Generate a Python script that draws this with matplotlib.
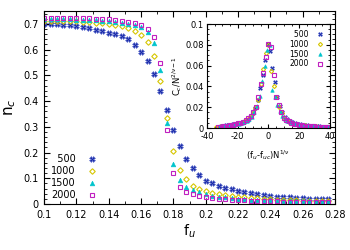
import matplotlib
matplotlib.use("Agg")
import matplotlib.pyplot as plt
from matplotlib.ticker import MultipleLocator

# main panel: n_c vs f_u
f_u = [0.100, 0.104, 0.108, 0.112, 0.116, 0.120, 0.124, 0.128, 0.132, 0.136,
       0.140, 0.144, 0.148, 0.152, 0.156, 0.160, 0.164, 0.168, 0.172, 0.176,
       0.180, 0.184, 0.188, 0.192, 0.196, 0.200, 0.204, 0.208, 0.212, 0.216,
       0.220, 0.224, 0.228, 0.232, 0.236, 0.240, 0.244, 0.248, 0.252, 0.256,
       0.260, 0.264, 0.268, 0.272, 0.276]

nc_500 = [0.700, 0.700, 0.699, 0.697, 0.694, 0.691, 0.687, 0.683, 0.677, 0.672,
          0.666, 0.659, 0.652, 0.640, 0.619, 0.592, 0.554, 0.504, 0.439, 0.364,
          0.288, 0.226, 0.175, 0.139, 0.113, 0.091, 0.080, 0.070, 0.061, 0.057,
          0.051, 0.045, 0.042, 0.038, 0.035, 0.031, 0.029, 0.027, 0.026, 0.024,
          0.022, 0.021, 0.020, 0.019, 0.018]
nc_1000 = [0.713, 0.713, 0.712, 0.712, 0.711, 0.710, 0.709, 0.707, 0.705, 0.702,
           0.699, 0.695, 0.690, 0.684, 0.674, 0.657, 0.628, 0.575, 0.478, 0.334,
           0.207, 0.132, 0.096, 0.070, 0.057, 0.049, 0.043, 0.038, 0.034, 0.031,
           0.028, 0.026, 0.024, 0.022, 0.020, 0.019, 0.017, 0.016, 0.015, 0.014,
           0.013, 0.012, 0.012, 0.011, 0.011]
nc_1500 = [0.718, 0.718, 0.718, 0.717, 0.717, 0.716, 0.716, 0.715, 0.714, 0.712,
           0.710, 0.708, 0.705, 0.701, 0.696, 0.686, 0.667, 0.624, 0.519, 0.314,
           0.156, 0.093, 0.065, 0.053, 0.045, 0.038, 0.033, 0.029, 0.026, 0.023,
           0.021, 0.019, 0.017, 0.016, 0.015, 0.014, 0.013, 0.012, 0.011, 0.011,
           0.010, 0.010, 0.009, 0.009, 0.009]
nc_2000 = [0.722, 0.722, 0.722, 0.722, 0.722, 0.722, 0.721, 0.721, 0.720, 0.719,
           0.717, 0.715, 0.712, 0.708, 0.703, 0.694, 0.680, 0.649, 0.547, 0.288,
           0.119, 0.067, 0.048, 0.037, 0.031, 0.027, 0.023, 0.020, 0.018, 0.016,
           0.015, 0.014, 0.013, 0.012, 0.011, 0.010, 0.010, 0.009, 0.009, 0.008,
           0.008, 0.008, 0.008, 0.008, 0.008]

# inset: scaling collapse
ix_500 = [-31.0, -29.4, -27.8, -26.2, -24.6, -23.0, -21.4, -19.8, -18.2, -16.6,
          -15.0, -13.4, -11.8, -10.2, -8.6, -7.0, -5.4, -3.8, -2.2, -0.6,
          1.0, 2.6, 4.2, 5.8, 7.4, 9.0, 10.6, 12.2, 13.8, 15.4,
          17.0, 18.6, 20.2, 21.8, 23.4, 25.0, 26.6, 28.2, 29.8, 31.4,
          33.0, 34.6, 36.2, 37.8, 39.4]
iy_500 = [0.002, 0.002, 0.003, 0.003, 0.003, 0.004, 0.004, 0.005, 0.005, 0.006,
          0.007, 0.008, 0.011, 0.014, 0.019, 0.027, 0.038, 0.051, 0.065, 0.081,
          0.074, 0.058, 0.044, 0.030, 0.021, 0.015, 0.011, 0.009, 0.007, 0.006,
          0.005, 0.004, 0.004, 0.003, 0.003, 0.003, 0.002, 0.002, 0.002, 0.002,
          0.002, 0.001, 0.001, 0.001, 0.001]
ix_1000 = [-34.0, -32.3, -30.6, -28.9, -27.2, -25.5, -23.8, -22.1, -20.4, -18.7,
           -17.0, -15.3, -13.6, -11.9, -10.2, -8.5, -6.8, -5.1, -3.4, -1.7,
           0.0, 1.7, 3.4, 5.1, 6.8, 8.5, 10.2, 11.9, 13.6, 15.3,
           17.0, 18.7, 20.4, 22.1, 23.8, 25.5, 27.2, 28.9, 30.6, 32.3,
           34.0, 35.7, 37.4, 39.1]
iy_1000 = [0.001, 0.001, 0.002, 0.002, 0.002, 0.003, 0.003, 0.004, 0.004, 0.005,
           0.006, 0.007, 0.009, 0.011, 0.014, 0.019, 0.027, 0.042, 0.057, 0.072,
           0.080, 0.055, 0.040, 0.030, 0.020, 0.014, 0.010, 0.008, 0.006, 0.005,
           0.004, 0.004, 0.003, 0.003, 0.003, 0.002, 0.002, 0.002, 0.002, 0.001,
           0.001, 0.001, 0.001, 0.001]
ix_1500 = [-32.2, -30.6, -28.9, -27.3, -25.6, -24.0, -22.3, -20.7, -19.0, -17.4,
           -15.7, -14.1, -12.4, -10.8, -9.1, -7.5, -5.8, -4.2, -2.5, -0.9,
           0.8, 2.4, 4.1, 5.7, 7.4, 9.0, 10.7, 12.3, 14.0, 15.6,
           17.3, 18.9, 20.6, 22.2, 23.9, 25.5, 27.2, 28.8, 30.5, 32.1,
           33.8, 35.4, 37.1, 38.7]
iy_1500 = [0.001, 0.002, 0.002, 0.002, 0.003, 0.003, 0.003, 0.004, 0.004, 0.005,
           0.006, 0.007, 0.009, 0.011, 0.015, 0.021, 0.031, 0.045, 0.060, 0.075,
           0.080, 0.037, 0.030, 0.022, 0.016, 0.012, 0.009, 0.007, 0.006, 0.005,
           0.004, 0.004, 0.003, 0.003, 0.003, 0.002, 0.002, 0.002, 0.002, 0.001,
           0.001, 0.001, 0.001, 0.001]
ix_2000 = [-33.0, -31.4, -29.7, -28.1, -26.4, -24.8, -23.1, -21.5, -19.8, -18.2,
           -16.5, -14.9, -13.2, -11.6, -9.9, -8.3, -6.6, -5.0, -3.3, -1.7,
           0.0, 1.7, 3.3, 5.0, 6.6, 8.3, 9.9, 11.6, 13.2, 14.9,
           16.5, 18.2, 19.8, 21.5, 23.1, 24.8, 26.4, 28.1, 29.7, 31.4,
           33.0, 34.7, 36.3, 38.0, 39.6]
iy_2000 = [0.001, 0.001, 0.002, 0.002, 0.002, 0.003, 0.003, 0.004, 0.005, 0.005,
           0.006, 0.008, 0.010, 0.012, 0.015, 0.020, 0.030, 0.042, 0.053, 0.068,
           0.081, 0.078, 0.051, 0.030, 0.022, 0.015, 0.010, 0.008, 0.007, 0.005,
           0.004, 0.004, 0.003, 0.003, 0.002, 0.002, 0.002, 0.002, 0.002, 0.001,
           0.001, 0.001, 0.001, 0.001, 0.001]

labels = ['500', '1000', '1500', '2000']
styles = [
    dict(marker='X', color='#1a2aa8', ms=4.0, mew=0.4, mfc='#1a2aa8', mec='#6070d0'),
    dict(marker='D', color='#d6c600', ms=2.8, mew=0.8, mfc='none'),
    dict(marker='^', color='#00c4cc', ms=3.4, mew=0.4, mfc='#00c4cc'),
    dict(marker='s', color='#c020c0', ms=3.5, mew=0.8, mfc='none'),
]

plt.rcParams['font.family'] = 'DejaVu Sans'
fig = plt.figure(figsize=(3.5, 2.5), dpi=100)
ax = fig.add_axes([0.126, 0.184, 0.831, 0.772])

main_y = [nc_500, nc_1000, nc_1500, nc_2000]
for lab, y, st in zip(labels, main_y, styles):
    ax.plot(f_u, y, ls='none', label='\u2007' * (4 - len(lab)) + lab, **st)

ax.set_xlim(0.1, 0.28)
ax.set_ylim(0, 0.75)
ax.xaxis.set_major_locator(MultipleLocator(0.02))
ax.xaxis.set_minor_locator(MultipleLocator(0.01))
ax.yaxis.set_major_locator(MultipleLocator(0.1))
ax.yaxis.set_minor_locator(MultipleLocator(0.02))
ax.xaxis.set_major_formatter(plt.FuncFormatter(lambda v, p: f'{v:g}'))
ax.yaxis.set_major_formatter(plt.FuncFormatter(lambda v, p: f'{v:g}'))
ax.tick_params(which='both', direction='in', top=True, right=True, labelsize=7, pad=4)
ax.tick_params(which='major', length=4)
ax.tick_params(which='minor', length=2)
ax.set_xlabel('f$_u$', fontsize=10, labelpad=2)
ax.set_ylabel('n$_c$', fontsize=11, labelpad=4)
ax.legend(loc='lower left', bbox_to_anchor=(0.0, -0.015), frameon=False,
          markerfirst=False, fontsize=7, handlelength=1.0, handletextpad=1.2,
          labelspacing=0.2, borderpad=0.2)

# inset
axi = fig.add_axes([0.591, 0.488, 0.352, 0.416])
inset_x = [ix_500, ix_1000, ix_1500, ix_2000]
inset_y = [iy_500, iy_1000, iy_1500, iy_2000]
for lab, x, y, st in zip(labels, inset_x, inset_y, styles):
    s = dict(st)
    s['ms'] = st['ms'] * 0.75
    axi.plot(x, y, ls='none', label='\u2007' * (4 - len(lab)) + lab, **s)

axi.set_xlim(-40, 40)
axi.set_ylim(0, 0.1)
axi.xaxis.set_major_locator(MultipleLocator(20))
axi.xaxis.set_minor_locator(MultipleLocator(5))
axi.yaxis.set_major_locator(MultipleLocator(0.02))
axi.yaxis.set_minor_locator(MultipleLocator(0.005))
axi.xaxis.set_major_formatter(plt.FuncFormatter(lambda v, p: f'{v:g}'))
axi.yaxis.set_major_formatter(plt.FuncFormatter(lambda v, p: f'{v:g}'))
axi.tick_params(which='both', direction='in', top=True, right=True, labelsize=6)
axi.tick_params(axis='x', pad=3)
axi.tick_params(axis='y', pad=2)
axi.tick_params(which='major', length=3)
axi.tick_params(which='minor', length=1.5)
axi.set_xlabel('(f$_u$-f$_{uc}$)N$^{1/\\nu}$', fontsize=6, labelpad=5)
axi.set_ylabel('C$_c$/N$^{2/\\nu-1}$', fontsize=6, labelpad=1)
axi.legend(loc='upper right', frameon=False, markerfirst=False, fontsize=5.5,
           handlelength=1.0, handletextpad=1.0, labelspacing=0.1, borderpad=0.3)

fig.savefig('out.png', dpi=100)
